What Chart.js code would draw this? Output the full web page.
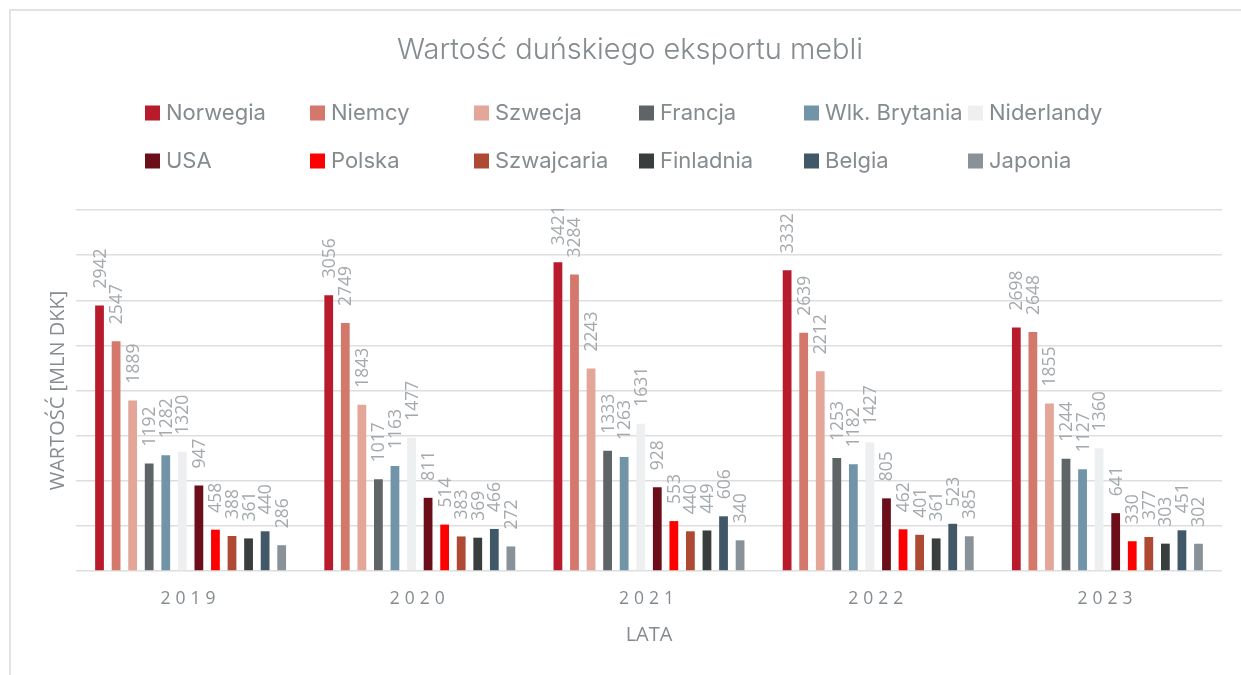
<!DOCTYPE html>
<html lang="pl">
<head>
<meta charset="utf-8">
<title>Wartość duńskiego eksportu mebli</title>
<script src="https://cdn.jsdelivr.net/npm/chart.js@4/dist/chart.umd.min.js"></script>
<style>
  html, body { margin: 0; padding: 0; background: #ffffff; }
  #wrap { position: relative; width: 1241px; height: 675px; overflow: hidden; }
  #frame { position: absolute; left: 9px; top: 9px; width: 1400px; height: 900px;
           border-left: 2px solid #e2e2e2; border-top: 2px solid #e2e2e2; }
  canvas { position: absolute; left: 0; top: 0; }
</style>
</head>
<body>
<div id="wrap">
  <div id="frame"></div>
  <canvas id="c" width="1241" height="675"></canvas>
</div>
<script>
// ---- data ----
const chartTitle = 'Wartość duńskiego eksportu mebli';
const yAxisTitle = 'WARTOŚĆ [MLN DKK]';
const xAxisTitle = 'LATA';
const years = ['2019', '2020', '2021', '2022', '2023'];

const seriesNames = ['Norwegia', 'Niemcy', 'Szwecja', 'Francja', 'Wlk. Brytania', 'Niderlandy',
                     'USA', 'Polska', 'Szwajcaria', 'Finladnia', 'Belgia', 'Japonia'];
const seriesColors = ['#b81c2c', '#d4786b', '#e3a698', '#5f6567', '#7194a9', '#eeeff1',
                      '#6b0e19', '#ff0000', '#ae4a33', '#393d3e', '#405868', '#8a9299'];

const norwegia     = [2942, 3056, 3421, 3332, 2698];
const niemcy       = [2547, 2749, 3284, 2639, 2648];
const szwecja      = [1889, 1843, 2243, 2212, 1855];
const francja      = [1192, 1017, 1333, 1253, 1244];
const wlkBrytania  = [1282, 1163, 1263, 1182, 1127];
const niderlandy   = [1320, 1477, 1631, 1427, 1360];
const usa          = [947, 811, 928, 805, 641];
const polska       = [458, 514, 553, 462, 330];
const szwajcaria   = [388, 383, 440, 401, 377];
const finladnia    = [361, 369, 449, 361, 303];
const belgia       = [440, 466, 606, 523, 451];
const japonia      = [286, 272, 340, 385, 302];

const seriesValues = [norwegia, niemcy, szwecja, francja, wlkBrytania, niderlandy,
                      usa, polska, szwajcaria, finladnia, belgia, japonia];

// ---- drawing ----
const GRAY_TEXT = '#858b8f';
const LABEL_TEXT = '#a4a9ad';

const customDraw = {
  id: 'customDraw',
  afterDatasetsDraw(chart) {
    const ctx = chart.ctx;
    ctx.save();
    ctx.font = '17.5px "Open Sans"';
    ctx.fillStyle = LABEL_TEXT;
    ctx.textAlign = 'left';
    ctx.textBaseline = 'middle';
    chart.data.datasets.forEach((ds, i) => {
      const meta = chart.getDatasetMeta(i);
      meta.data.forEach((bar, j) => {
        ctx.save();
        ctx.translate(bar.x + 1, bar.y - 17);
        ctx.rotate(-Math.PI / 2);
        ctx.fillText(String(ds.data[j]), 0, 0);
        ctx.restore();
      });
    });
    ctx.restore();
  },
  afterDraw(chart) {
    const ctx = chart.ctx;
    const area = chart.chartArea;
    ctx.save();
    // title
    ctx.fillStyle = GRAY_TEXT;
    ctx.textAlign = 'center';
    ctx.textBaseline = 'middle';
    ctx.font = '300 29px Inter';
    ctx.fillText(chartTitle, 630, 50);

    // legend (2 rows x 6 columns)
    const colX = [145, 310, 474, 639, 804, 968];
    const rowY = [113, 161];
    ctx.font = '22px Inter';
    ctx.textAlign = 'left';
    chart.data.datasets.forEach((ds, i) => {
      const c = i % 6, r = Math.floor(i / 6);
      const x = colX[c], y = rowY[r];
      ctx.fillStyle = ds.backgroundColor;
      ctx.fillRect(x, y - 7.5, 15, 15);
      ctx.fillStyle = GRAY_TEXT;
      ctx.fillText(ds.label, x + 21, y);
    });

    // x tick labels with letter spacing
    const xs = chart.scales.x;
    ctx.font = '17.5px "Open Sans"';
    ctx.fillStyle = GRAY_TEXT;
    ctx.textAlign = 'center';
    ctx.letterSpacing = '5px';
    chart.data.labels.forEach((lab, i) => {
      ctx.fillText(lab, xs.getPixelForValue(i), 599);
    });
    ctx.letterSpacing = '0px';

    // x axis title
    ctx.font = '20px "Open Sans"';
    ctx.fillText(xAxisTitle, (area.left + area.right) / 2, 635);

    // y axis title
    ctx.save();
    ctx.translate(58, (area.top + area.bottom) / 2);
    ctx.rotate(-Math.PI / 2);
    ctx.font = '20px "Open Sans"';
    ctx.fillText(yAxisTitle, 0, 0);
    ctx.restore();

    ctx.restore();
  }
};

const datasets = seriesNames.map((name, i) => ({
  label: name,
  data: seriesValues[i],
  backgroundColor: seriesColors[i],
  borderWidth: 0,
  categoryPercentage: 0.867,
  barPercentage: 0.53
}));

function build() {
  new Chart(document.getElementById('c'), {
    type: 'bar',
    data: { labels: years, datasets },
    options: {
      responsive: false,
      animation: false,
      layout: { padding: { left: 76, right: 19, top: 210, bottom: 104 } },
      plugins: {
        legend: { display: false },
        title: { display: false },
        tooltip: { enabled: false }
      },
      scales: {
        x: {
          grid: { display: false, drawTicks: false },
          border: { display: false },
          ticks: { display: false }
        },
        y: {
          min: 0, max: 4000,
          ticks: { display: false, stepSize: 500 },
          grid: { color: '#dedede', lineWidth: 1.5, drawTicks: false },
          border: { display: false }
        }
      }
    },
    plugins: [customDraw]
  });
}

Promise.all([
  document.fonts.load('17px "Open Sans"'),
  document.fonts.load('20px "Open Sans"'),
  document.fonts.load('22px Inter'),
  document.fonts.load('300 29px Inter')
]).then(build, build);
</script>
</body>
</html>
